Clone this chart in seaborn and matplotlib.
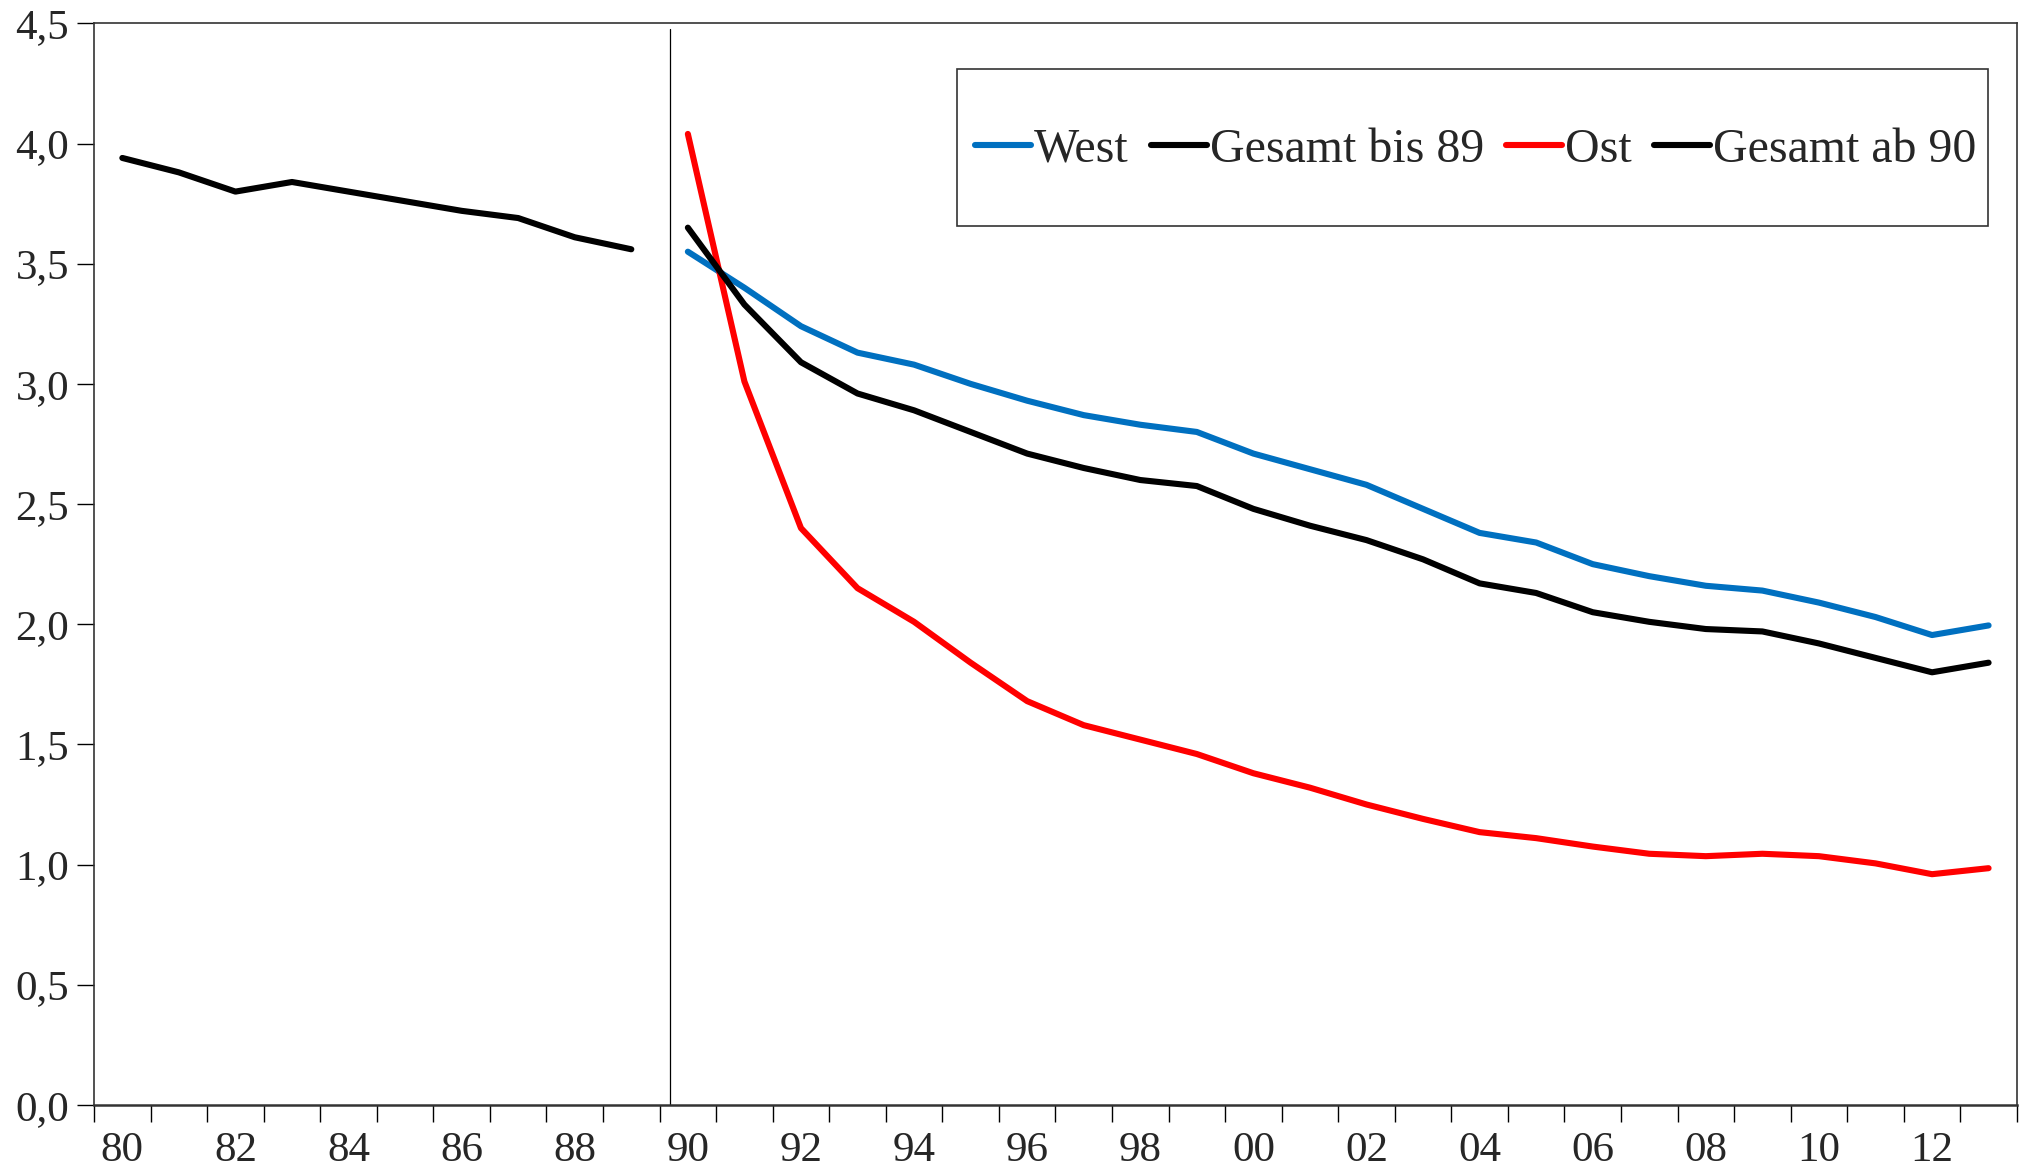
import numpy as np
import pandas as pd
import matplotlib
matplotlib.use("Agg")
import matplotlib.pyplot as plt
import seaborn as sns
from matplotlib.lines import Line2D
from matplotlib.patches import Rectangle
from matplotlib.ticker import FuncFormatter, MultipleLocator

# ---------------------------------
# DATA
# ---------------------------------
years = ["80", "81", "82", "83", "84", "85", "86", "87", "88", "89",
         "90", "91", "92", "93", "94", "95", "96", "97", "98", "99",
         "00", "01", "02", "03", "04", "05", "06", "07", "08", "09",
         "10", "11", "12", "13"]

gesamt_bis_89 = [3.94, 3.88, 3.80, 3.84, 3.80, 3.76, 3.72, 3.69, 3.61, 3.56]

west = [3.55, 3.40, 3.24, 3.13, 3.08, 3.00, 2.93, 2.87, 2.83, 2.80,
        2.71, 2.645, 2.58, 2.48, 2.38, 2.34, 2.25, 2.20, 2.16, 2.14,
        2.09, 2.03, 1.955, 1.995]

ost = [4.04, 3.01, 2.40, 2.15, 2.01, 1.84, 1.68, 1.58, 1.52, 1.46,
       1.38, 1.32, 1.25, 1.19, 1.135, 1.11, 1.075, 1.045, 1.035, 1.045,
       1.035, 1.005, 0.96, 0.985]

gesamt_ab_90 = [3.65, 3.33, 3.09, 2.96, 2.89, 2.80, 2.71, 2.65, 2.60, 2.575,
                2.48, 2.41, 2.35, 2.27, 2.17, 2.13, 2.05, 2.01, 1.98, 1.97,
                1.92, 1.86, 1.80, 1.84]

series_names = ["West", "Gesamt bis 89", "Ost", "Gesamt ab 90"]
series_colors = ["#0070C0", "black", "#FF0000", "black"]

# long table for seaborn
rows = []
for i, v in enumerate(gesamt_bis_89):
    rows.append(("Gesamt bis 89", i, v))
for name, vals in [("West", west), ("Ost", ost), ("Gesamt ab 90", gesamt_ab_90)]:
    for i, v in enumerate(vals):
        rows.append((name, i + 10, v))
df = pd.DataFrame(rows, columns=["series", "pos", "value"])

# ---------------------------------
# PLOT
# ---------------------------------
sns.set_style("white")
plt.rcParams["font.family"] = ["Liberation Serif", "DejaVu Serif"]

fig = plt.figure(figsize=(20.27, 11.68), dpi=100)
ax = fig.add_axes([0.0464, 0.054, 0.9486, 0.926])

sns.lineplot(data=df, x="pos", y="value", hue="series",
             hue_order=series_names,
             palette=dict(zip(series_names, series_colors)),
             linewidth=4.4, legend=False, ax=ax, errorbar=None)

# separator between 89 and 90
ax.axvline(9.69, ymin=0, ymax=0.995, color="black", linewidth=0.9)

ax.set_xlim(-0.5, len(years) - 0.5)
ax.set_ylim(0, 4.5)

# x: labels on every 2nd category, ticks at category boundaries
ax.set_xticks(np.arange(0, len(years), 2))
ax.set_xticklabels(years[::2])
ax.set_xticks(np.arange(-0.5, len(years), 1), minor=True)
ax.tick_params(axis="x", which="major", length=0, labelsize=31, pad=19)
ax.tick_params(axis="x", which="minor", length=12, width=1.0, color="black",
               direction="out", bottom=True)

ax.yaxis.set_major_locator(MultipleLocator(0.5))
ax.yaxis.set_major_formatter(FuncFormatter(lambda v, p: f"{v:.1f}".replace(".", ",")))
ax.tick_params(axis="y", which="major", length=12, width=1.0, color="black",
               direction="out", left=True, labelsize=31, pad=6)

ax.set_xlabel("")
ax.set_ylabel("")
for s in ax.spines.values():
    s.set_color("#333333")
    s.set_linewidth(1.2)
ax.spines["bottom"].set_linewidth(1.8)

# legend box (frame drawn separately: wide vertical padding)
ax.add_patch(Rectangle((0.4486, 0.8124), 0.5364, 0.1456, transform=ax.transAxes,
                       facecolor="white", edgecolor="#333333", linewidth=1.2,
                       zorder=4))
handles = [Line2D([0], [0], color=c, linewidth=4.4) for c in series_colors]
leg = ax.legend(handles, series_names, ncol=4, loc="center",
                bbox_to_anchor=(0.7185, 0.8830), fontsize=34.5,
                handlelength=1.17, handletextpad=0.06, columnspacing=0.46,
                borderpad=0, frameon=False, borderaxespad=0)
leg.set_zorder(5)

fig.savefig("out.png", dpi=100)
